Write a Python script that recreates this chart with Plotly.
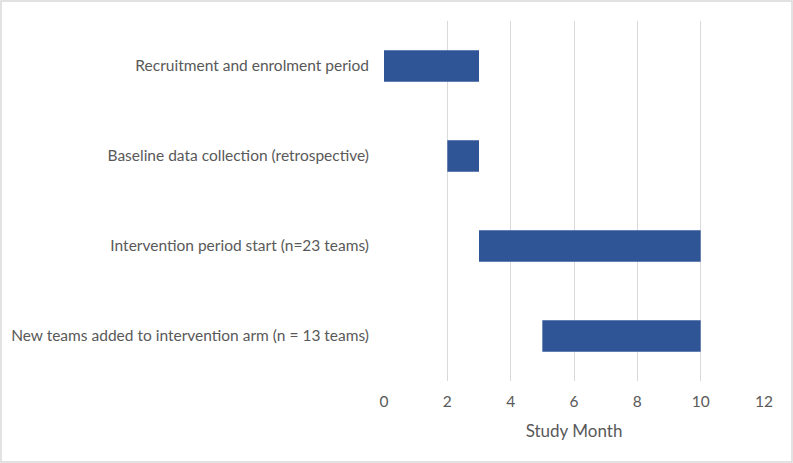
import plotly.graph_objects as go

# Gantt-style timeline of study phases
phases = [
    "Recruitment and enrolment period",
    "Baseline data collection (retrospective)",
    "Intervention period start (n=23 teams)",
    "New teams added to intervention arm (n = 13 teams)",
]
start_month = [0, 2, 3, 5]
duration = [3, 1, 7, 5]
x_ticks = [0, 2, 4, 6, 8, 10, 12]

font_grey = "#595959"

fig = go.Figure()
fig.add_trace(go.Bar(
    y=phases,
    x=duration,
    base=start_month,
    orientation="h",
    width=0.35,
    marker=dict(color="#2F5597", line=dict(width=0)),
    hoverinfo="none",
))

fig.update_layout(
    width=793, height=463,
    margin=dict(l=384, r=29, t=21, b=82, autoexpand=False),
    plot_bgcolor="white",
    paper_bgcolor="white",
    font=dict(family="Lato, Open Sans, sans-serif", size=15.5, color=font_grey),
    showlegend=False,
    xaxis=dict(
        range=[0, 12],
        tickvals=x_ticks,
        showgrid=True,
        gridcolor="#d9d9d9",
        gridwidth=1,
        zeroline=False,
        showline=False,
        ticks="outside",
        tickcolor="white",
        ticklen=6,
        automargin=False,
        title=dict(text="Study Month", font=dict(size=17, color=font_grey), standoff=16),
    ),
    yaxis=dict(
        autorange="reversed",
        showgrid=False,
        zeroline=False,
        showline=False,
        ticks="",
        ticklabelstandoff=14,
        automargin=False,
    ),
    shapes=[dict(type="rect", xref="paper", yref="paper",
                 x0=-383 / 380, x1=1 + 28 / 380, y0=-81 / 360, y1=1 + 20 / 360,
                 line=dict(color="#d9d9d9", width=1.5))],
)

# drop the default body margin so the figure sits at the page corner
fig.write_html("out.html", config={"displayModeBar": False},
               post_script="document.body.style.margin='0';")
